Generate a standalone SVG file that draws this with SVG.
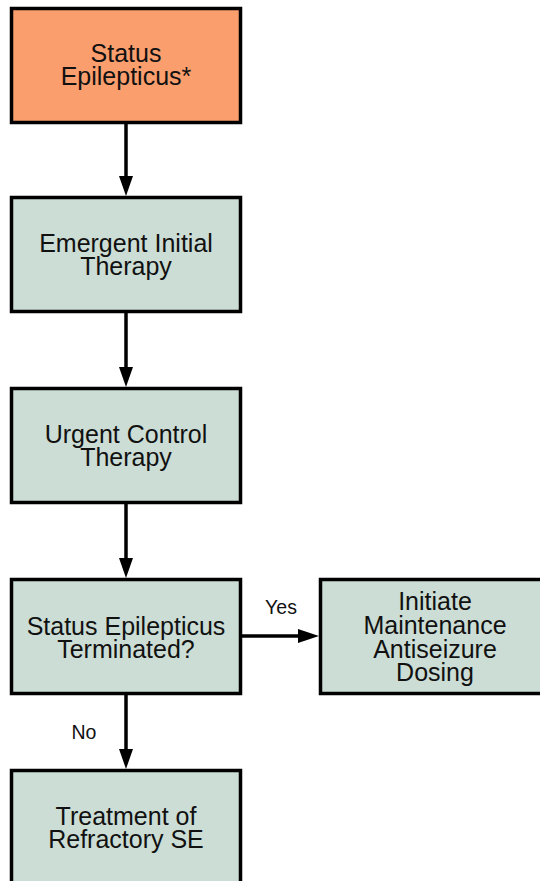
<svg xmlns="http://www.w3.org/2000/svg" width="540" height="881" viewBox="0 0 540 881">
<style>
.box{fill:#CCDDD5;stroke:#000;stroke-width:3.5}
.start{fill:#FA9E6E;stroke:#000;stroke-width:3.5}
.t{font-family:"Liberation Sans",Arial,sans-serif;font-size:25px;fill:#111;text-anchor:middle}
.lbl{font-family:"Liberation Sans",Arial,sans-serif;font-size:19.5px;fill:#111;text-anchor:middle}
.edge{stroke:#000;stroke-width:3.5;fill:none}
.head{fill:#000}
</style>
<rect width="540" height="881" fill="#fff"/>
<g id="connectors">
<line class="edge" x1="126" y1="124" x2="126" y2="178"/>
<polygon class="head" points="119,176 133,176 126,196"/>
<line class="edge" x1="126" y1="313" x2="126" y2="369"/>
<polygon class="head" points="119,367 133,367 126,387"/>
<line class="edge" x1="126" y1="504" x2="126" y2="560"/>
<polygon class="head" points="119,558 133,558 126,578"/>
<line class="edge" x1="126" y1="695" x2="126" y2="751"/>
<polygon class="head" points="119,749 133,749 126,769"/>
<line class="edge" x1="240" y1="636" x2="300" y2="636"/>
<polygon class="head" points="298,629 298,643 319,636"/>
<text class="lbl" x="281" y="614">Yes</text>
<text class="lbl" x="84" y="739">No</text>
</g>
<g id="n1">
<rect class="start" x="11.5" y="8.5" width="229" height="114"/>
<text class="t" x="126" y="62">Status</text>
<text class="t" x="126" y="85">Epilepticus*</text>
</g>
<g id="n2">
<rect class="box" x="11.5" y="197.5" width="229" height="114"/>
<text class="t" x="126" y="252">Emergent Initial</text>
<text class="t" x="126" y="275">Therapy</text>
</g>
<g id="n3">
<rect class="box" x="11.5" y="388.5" width="229" height="114"/>
<text class="t" x="126" y="443">Urgent Control</text>
<text class="t" x="126" y="466">Therapy</text>
</g>
<g id="n4">
<rect class="box" x="11.5" y="579.5" width="229" height="114"/>
<text class="t" x="126" y="635">Status Epilepticus</text>
<text class="t" x="126" y="658">Terminated?</text>
</g>
<g id="n5">
<rect class="box" x="320.5" y="579.5" width="229" height="114"/>
<text class="t" x="435" y="610">Initiate</text>
<text class="t" x="435" y="634">Maintenance</text>
<text class="t" x="435" y="658">Antiseizure</text>
<text class="t" x="435" y="681">Dosing</text>
</g>
<g id="n6">
<rect class="box" x="11.5" y="770.5" width="229" height="114"/>
<text class="t" x="126" y="825">Treatment of</text>
<text class="t" x="126" y="848">Refractory SE</text>
</g>
</svg>
